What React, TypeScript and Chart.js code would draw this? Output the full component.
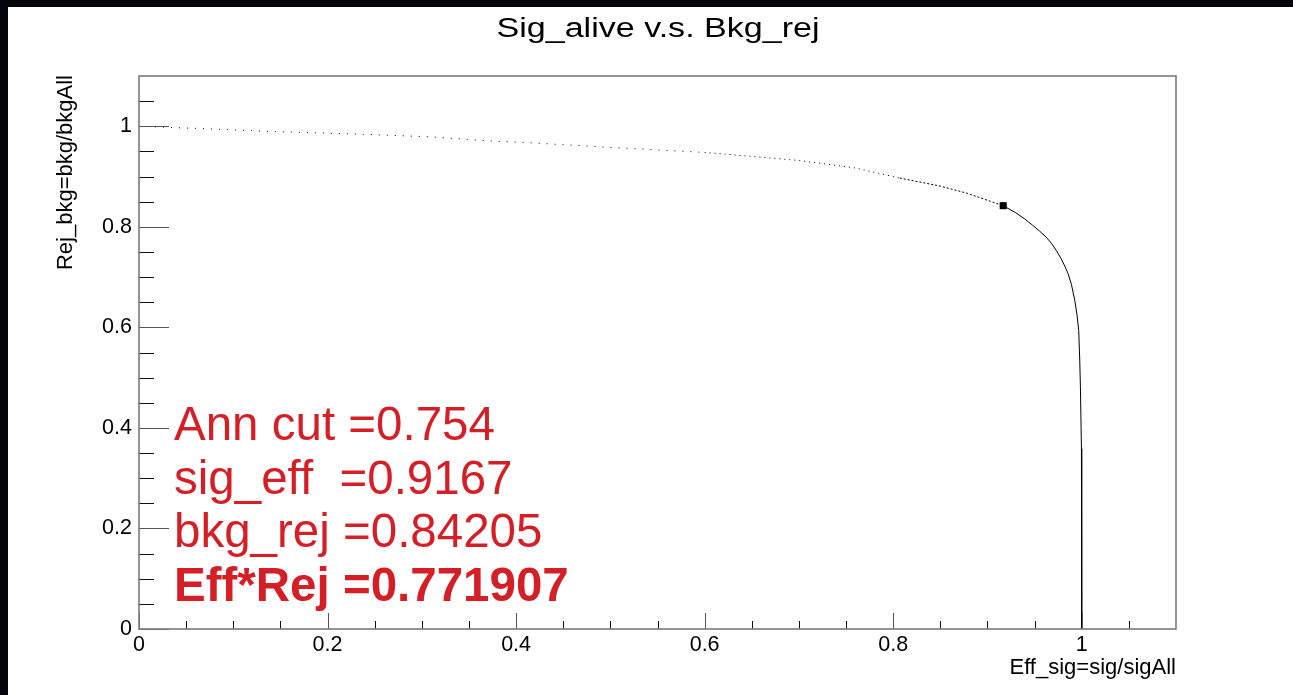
import React, { useEffect, useRef } from 'react';
import { Chart, registerables } from 'chart.js';

Chart.register(...registerables);

// ROC curve: signal efficiency vs background rejection
const curveEff = [0.0, 0.073, 0.135, 0.238, 0.309, 0.379, 0.407, 0.5, 0.6, 0.7, 0.76, 0.807, 0.85, 0.878, 0.9167, 0.93, 0.94, 0.948, 0.955, 0.962, 0.968, 0.973, 0.978, 0.982, 0.9855, 0.989, 0.9926, 0.995, 0.9968, 0.9979, 0.9986, 0.9997, 1.0, 1.0];
const curveRej = [1.0, 0.995, 0.99, 0.984, 0.979, 0.97, 0.968, 0.958, 0.948, 0.932, 0.917, 0.897, 0.881, 0.867, 0.842, 0.828, 0.815, 0.803, 0.792, 0.78, 0.767, 0.753, 0.737, 0.722, 0.707, 0.686, 0.654, 0.625, 0.594, 0.535, 0.482, 0.359, 0.2, 0.0];

// chosen cut point
const cutEff = [0.9167];
const cutRej = [0.84205];

// axes
const majorTicks = [0, 0.2, 0.4, 0.6, 0.8, 1];
const minorTicks = [0.05, 0.1, 0.15, 0.25, 0.3, 0.35, 0.45, 0.5, 0.55, 0.65, 0.7, 0.75, 0.85, 0.9, 0.95, 1.05];
const axisMin = 0;
const axisMax = 1.1;

const titleText = 'Sig_alive v.s. Bkg_rej';
const xTitle = 'Eff_sig=sig/sigAll';
const yTitle = 'Rej_bkg=bkg/bkgAll';
const infoLines = ['Ann cut =0.754', 'sig_eff  =0.9167', 'bkg_rej =0.84205', 'Eff*Rej =0.771907'];
const infoBold = [false, false, false, true];

const FONT = '"Liberation Sans", Arial, Helvetica, sans-serif';
const RED = '#d41f27';

const decorPlugin = {
  id: 'rootDecor',
  afterDatasetsDraw(chart: any) {
    const { ctx, chartArea: a, scales } = chart;
    const xs = scales.x;
    const ys = scales.y;
    ctx.save();
    ctx.lineWidth = 1;
    const xMaj = 16, xMin = 8, yMaj = 30, yMin = 15;
    ctx.strokeStyle = '#555';
    majorTicks.forEach((v) => {
      const px = Math.round(xs.getPixelForValue(v)) + 0.5;
      ctx.beginPath(); ctx.moveTo(px, a.bottom); ctx.lineTo(px, a.bottom - xMaj); ctx.stroke();
      const py = Math.round(ys.getPixelForValue(v)) + 0.5;
      ctx.beginPath(); ctx.moveTo(a.left, py); ctx.lineTo(a.left + yMaj, py); ctx.stroke();
    });
    ctx.strokeStyle = '#111';
    minorTicks.forEach((v) => {
      const px = Math.round(xs.getPixelForValue(v)) + 0.5;
      ctx.beginPath(); ctx.moveTo(px, a.bottom); ctx.lineTo(px, a.bottom - xMin); ctx.stroke();
      const py = Math.round(ys.getPixelForValue(v)) + 0.5;
      ctx.beginPath(); ctx.moveTo(a.left, py); ctx.lineTo(a.left + yMin, py); ctx.stroke();
    });
    ctx.strokeStyle = '#7a7a7a';
    ctx.lineWidth = 1.6;
    ctx.strokeRect(a.left, a.top, a.right - a.left, a.bottom - a.top);
    ctx.restore();
  },
  afterDraw(chart: any) {
    const { ctx, chartArea: a } = chart;
    ctx.save();
    ctx.fillStyle = '#000';
    ctx.font = `27px ${FONT}`;
    ctx.textAlign = 'center';
    ctx.textBaseline = 'alphabetic';
    const w = ctx.measureText(titleText).width;
    const sx = 323 / w;
    ctx.save();
    ctx.translate(650, 30);
    ctx.scale(sx, 1);
    ctx.fillText(titleText, 0, 0);
    ctx.restore();
    ctx.font = `22px ${FONT}`;
    ctx.textAlign = 'right';
    ctx.fillText(xTitle, a.right, a.bottom + 45);
    ctx.save();
    ctx.translate(64, a.top - 1);
    ctx.rotate(-Math.PI / 2);
    ctx.textAlign = 'right';
    ctx.fillText(yTitle, 0, 0);
    ctx.restore();
    ctx.fillStyle = RED;
    ctx.textAlign = 'left';
    infoLines.forEach((t, i) => {
      ctx.font = `${infoBold[i] ? 'bold ' : ''}47.5px ${FONT}`;
      ctx.fillText(t, a.left + 35, a.top + 364 + i * 53.7);
    });
    ctx.restore();
  },
};

export default function App() {
  const ref = useRef<HTMLCanvasElement>(null);
  useEffect(() => {
    if (!ref.current) return;
    const tickOpts = {
      color: '#000',
      font: { family: FONT, size: 21.5, lineHeight: 1.2 },
      autoSkip: false,
      maxRotation: 0,
      callback: (v: any) => String(v),
    };
    const chart = new Chart(ref.current, {
      type: 'scatter',
      data: {
        datasets: [
          {
            data: curveEff.map((x, i) => ({ x, y: curveRej[i] })),
            showLine: true,
            borderColor: '#000',
            borderWidth: 1,
            pointRadius: 0,
            pointHoverRadius: 0,
            fill: false,
            tension: 0,
            segment: {
              borderDash: (c: any) => {
                const x0 = c.p0.parsed.x;
                if (x0 < 0.6) return [1, 7];
                if (x0 < 0.8) return [1, 4];
                if (x0 < 0.9) return [2, 2];
                return undefined;
              },
            },
          } as any,
          {
            data: cutEff.map((x, i) => ({ x, y: cutRej[i] })),
            showLine: false,
            pointStyle: 'rect',
            pointRadius: 5,
            pointBackgroundColor: '#000',
            pointBorderWidth: 0,
            backgroundColor: '#000',
          } as any,
        ],
      },
      options: {
        animation: false,
        responsive: false,
        maintainAspectRatio: false,
        events: [],
        layout: { padding: { top: 69, right: 117, left: 0, bottom: 0 } },
        plugins: { legend: { display: false }, tooltip: { enabled: false }, title: { display: false } },
        scales: {
          x: {
            type: 'linear',
            position: 'bottom',
            min: axisMin,
            max: axisMax,
            grid: { display: false, drawTicks: false },
            border: { display: false },
            ticks: { ...tickOpts, padding: 3 },
            afterBuildTicks: (axis: any) => { axis.ticks = majorTicks.map((v) => ({ value: v })); },
            afterFit: (s: any) => { s.height = 66; },
          },
          y: {
            type: 'linear',
            position: 'left',
            min: axisMin,
            max: axisMax,
            grid: { display: false, drawTicks: false },
            border: { display: false },
            ticks: { ...tickOpts, padding: 7 },
            afterBuildTicks: (axis: any) => { axis.ticks = majorTicks.map((v) => ({ value: v })); },
            afterFit: (s: any) => { s.width = 131; },
          },
        },
      } as any,
      plugins: [decorPlugin],
    });
    return () => chart.destroy();
  }, []);
  return (
    <div style={{ position: 'fixed', left: 0, top: 0, width: '100vw', height: '100vh', background: '#03070b', overflow: 'hidden' }}>
      <div style={{ position: 'absolute', left: 8, top: 7, right: 0, bottom: 0, background: '#fff' }}>
        <canvas ref={ref} width={1285} height={688} style={{ display: 'block' }} />
      </div>
    </div>
  );
}
